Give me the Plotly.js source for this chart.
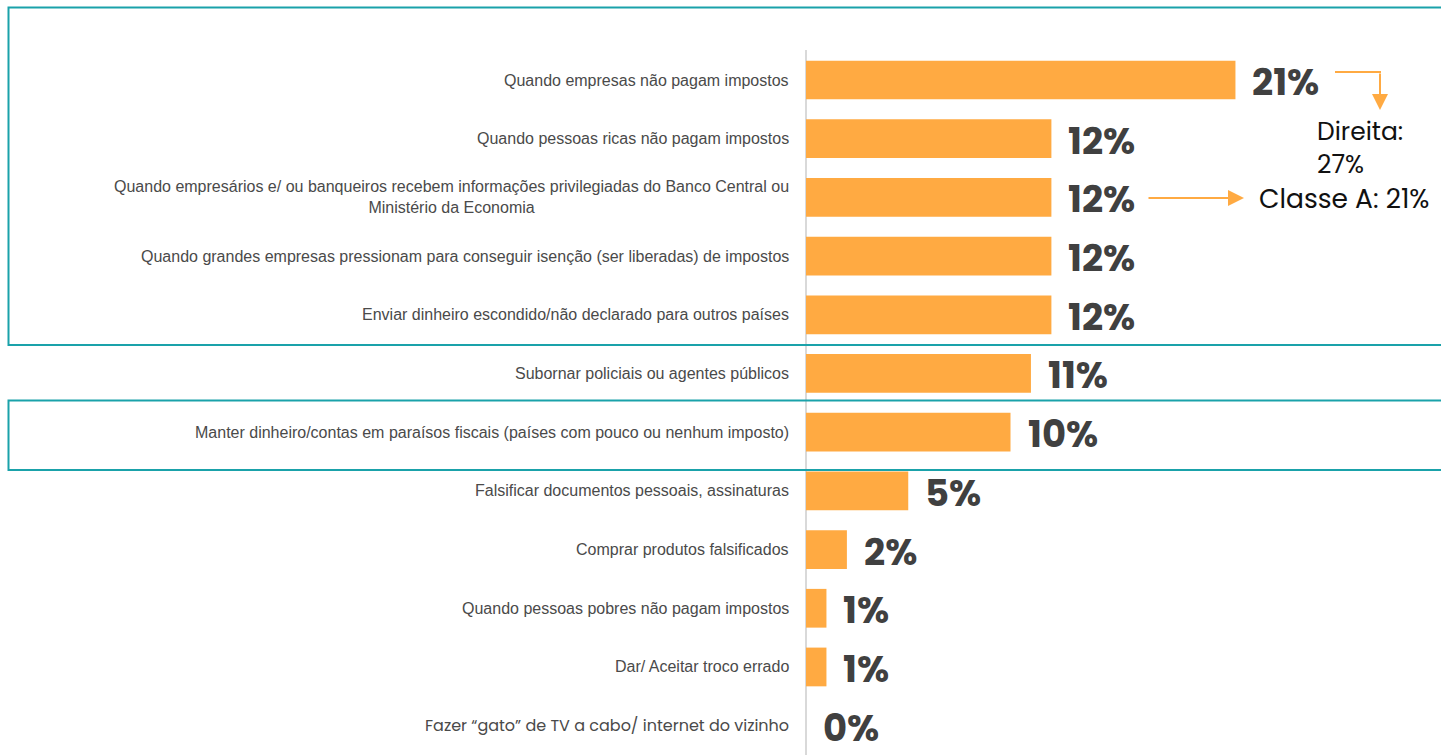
<!DOCTYPE html>
<html>
<head>
<meta charset="utf-8">
<script src="https://cdn.plot.ly/plotly-3.0.1.min.js"></script>
<style>html,body{margin:0;padding:0;background:#fff;}#chart{width:1441px;height:755px;}</style>
</head>
<body>
<div id="chart"></div>
<script>
const categories = [
  "Quando empresas não pagam impostos",
  "Quando pessoas ricas não pagam impostos",
  "Quando empresários e/ ou banqueiros recebem informações privilegiadas do Banco Central ou<br>Ministério da Economia",
  "Quando grandes empresas pressionam para conseguir isenção (ser liberadas) de impostos",
  "Enviar dinheiro escondido/não declarado para outros países",
  "Subornar policiais ou agentes públicos",
  "Manter dinheiro/contas em paraísos fiscais (países com pouco ou nenhum imposto)",
  "Falsificar documentos pessoais, assinaturas",
  "Comprar produtos falsificados",
  "Quando pessoas pobres não pagam impostos",
  "Dar/ Aceitar troco errado",
  "Fazer “gato” de TV a cabo/ internet do vizinho"
];
const values = [21, 12, 12, 12, 12, 11, 10, 5, 2, 1, 1, 0];
const valueLabels = ["21%", "12%", "12%", "12%", "12%", "11%", "10%", "5%", "2%", "1%", "1%", "0%"];
const noteDireita = "Direita:<br>27%";
const noteClasse = "Classe A: 21%";

const W = 1441, H = 755, ML = 806, MR = 0, MT = 50, MB = 0;
const PW = W - ML - MR, PH = H - MT - MB;
const px = v => (v - ML) / PW;
const py = v => (H - MB - v) / PH;

const ORANGE = "#FFAA42";
const TEAL = "#1AA2AA";

const trace = {
  type: "bar",
  orientation: "h",
  y: categories,
  x: values,
  marker: { color: ORANGE },
  hoverinfo: "none"
};

const annotations = [];
categories.forEach((c, i) => {
  const last = i === categories.length - 1;
  annotations.push({
    xref: "paper", yref: "y", x: 0, y: c, xanchor: "right", yanchor: "middle",
    xshift: -15, align: "center", showarrow: false, text: c,
    font: { family: last ? "Poppins, 'Open Sans', sans-serif" : "'Liberation Sans', Arial, sans-serif",
            size: 16, color: "#4a4a4a" }
  });
  annotations.push({
    xref: "x", yref: "y", x: values[i], y: c, xanchor: "left", yanchor: "middle",
    xshift: 15, yshift: -2, showarrow: false, text: "<b>" + valueLabels[i] + "</b>",
    font: { family: "Poppins, Inter, 'Open Sans', sans-serif", size: 37, color: "#404040", weight: 800 }
  });
});
annotations.push({
  xref: "paper", yref: "paper", x: px(1315), y: py(148), xanchor: "left", yanchor: "middle",
  align: "left", showarrow: false, text: noteDireita,
  font: { family: "Poppins, Inter, 'Open Sans', sans-serif", size: 25, color: "#111" }
});
annotations.push({
  xref: "paper", yref: "paper", x: px(1257), y: py(199), xanchor: "left", yanchor: "middle",
  align: "left", showarrow: false, text: noteClasse,
  font: { family: "Poppins, Inter, 'Open Sans', sans-serif", size: 26.5, color: "#111" }
});
// arrows
annotations.push({
  xref: "paper", yref: "paper", x: px(1380), y: py(110), ax: 0, ay: -38, text: "",
  showarrow: true, arrowhead: 2, arrowsize: 1.6, arrowwidth: 2, arrowcolor: ORANGE, standoff: 0
});
annotations.push({
  xref: "paper", yref: "paper", x: px(1244), y: py(198), ax: -97, ay: 0, text: "",
  showarrow: true, arrowhead: 2, arrowsize: 1.6, arrowwidth: 2, arrowcolor: ORANGE, standoff: 0
});

const shapes = [
  { type: "line", xref: "paper", yref: "paper", x0: px(1335), x1: px(1381), y0: py(72), y1: py(72),
    line: { color: ORANGE, width: 2 } },
  { type: "rect", xref: "paper", yref: "paper", x0: px(8.5), x1: px(1460), y0: py(345), y1: py(7.5),
    line: { color: TEAL, width: 2 }, fillcolor: "rgba(0,0,0,0)" },
  { type: "rect", xref: "paper", yref: "paper", x0: px(8.5), x1: px(1460), y0: py(470), y1: py(400.5),
    line: { color: TEAL, width: 2 }, fillcolor: "rgba(0,0,0,0)" }
];

const layout = {
  width: W, height: H,
  margin: { l: ML, r: MR, t: MT, b: MB, pad: 0 },
  paper_bgcolor: "#fff", plot_bgcolor: "#fff",
  showlegend: false,
  bargap: 0.34,
  xaxis: { range: [0, PW / 20.45], showgrid: false, showticklabels: false, ticks: "",
           zeroline: true, zerolinecolor: "#d9d9d9", zerolinewidth: 2, fixedrange: true },
  yaxis: { type: "category", categoryorder: "array", categoryarray: categories, autorange: "reversed",
           showticklabels: false, showgrid: false, ticks: "", zeroline: false, fixedrange: true },
  annotations: annotations,
  shapes: shapes
};

Plotly.newPlot("chart", [trace], layout, { displayModeBar: false, staticPlot: true });
</script>
</body>
</html>
